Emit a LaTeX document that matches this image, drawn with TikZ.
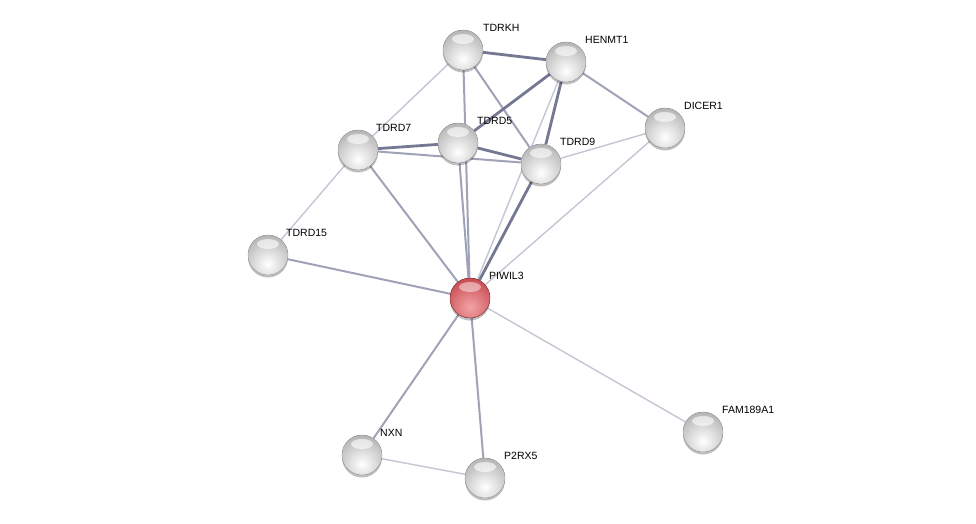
\documentclass[tikz,border=0pt]{standalone}
\usepackage{fontspec}
\setmainfont{Liberation Sans}
\usetikzlibrary{calc,shadows}
\definecolor{ethick}{HTML}{747892}
\definecolor{emed}{HTML}{A0A3B8}
\definecolor{elight}{HTML}{C4C6D4}
\definecolor{ballg}{HTML}{B4B4B4}
\definecolor{ballr}{HTML}{C84B52}
\definecolor{ballrl}{HTML}{F3A3A5}
\pgfdeclarelayer{bg}
\pgfsetlayers{bg,main}
\tikzset{
  ball/.style={circle, minimum size=40pt, inner sep=0pt, draw=gray!70, line width=0.4pt,
    drop shadow={shadow xshift=0pt, shadow yshift=-2.5pt, opacity=.25, fill=black},
    path picture={
      \fill[inner color=white, outer color=ballg] ($(path picture bounding box.center)+(0,9)$) circle (29pt);
      \fill[white, opacity=.6] ($(path picture bounding box.center)+(0,-11)$) ellipse (11pt and 5pt);
    }},
  redball/.style={circle, minimum size=40pt, inner sep=0pt, draw=ballr!70!black, line width=0.4pt,
    drop shadow={shadow xshift=0pt, shadow yshift=-2.5pt, opacity=.25, fill=black},
    path picture={
      \fill[inner color=ballrl, outer color=ballr] ($(path picture bounding box.center)+(0,9)$) circle (29pt);
      \fill[white, opacity=.45] ($(path picture bounding box.center)+(0,-11)$) ellipse (11pt and 5pt);
    }},
  lbl/.style={anchor=west, inner sep=0pt, font=\fontsize{10.5}{12}\selectfont, text=black},
  thick edge/.style={draw=ethick, line width=2.8pt},
  med edge/.style={draw=emed, line width=2pt},
  light edge/.style={draw=elight, line width=1.4pt}
}
\begin{document}
\begin{tikzpicture}[x=1pt,y=-1pt]
\useasboundingbox (0,0) rectangle (976,524);

\node[ball] (tdrkh) at (463,50) {};
\node[ball] (henmt1) at (566,62) {};
\node[ball] (dicer1) at (665,128) {};
\node[ball] (tdrd7) at (358,150) {};
\node[ball] (tdrd5) at (458,143) {};
\node[ball] (tdrd9) at (541,164) {};
\node[ball] (tdrd15) at (268,255) {};
\node[redball] (piwil3) at (470,298) {};
\node[ball] (nxn) at (362,455) {};
\node[ball] (p2rx5) at (485,478) {};
\node[ball] (fam) at (703,432) {};

\node[lbl] (l1) at ($(tdrkh)+(20,-22)$) {TDRKH};
\node[lbl] (l2) at ($(henmt1)+(19,-22)$) {HENMT1};
\node[lbl] (l3) at ($(dicer1)+(19,-22)$) {DICER1};
\node[lbl] (l4) at ($(tdrd7)+(18,-22)$) {TDRD7};
\node[lbl] (l5) at ($(tdrd5)+(19,-22)$) {TDRD5};
\node[lbl] (l6) at ($(tdrd9)+(19,-22)$) {TDRD9};
\node[lbl] (l7) at ($(tdrd15)+(18,-22)$) {TDRD15};
\node[lbl] (l8) at ($(piwil3)+(19,-22)$) {PIWIL3};
\node[lbl] (l9) at ($(nxn)+(18,-22)$) {NXN};
\node[lbl] (l10) at ($(p2rx5)+(19,-22)$) {P2RX5};
\node[lbl] (l11) at ($(fam)+(19,-22)$) {FAM189A1};

\begin{pgfonlayer}{bg}
\fill[white] (0,0) rectangle (976,524);
\draw[light edge] (tdrkh) -- (tdrd7);
\draw[light edge] (tdrd7) -- (tdrd15);
\draw[light edge] (tdrd9) -- (dicer1);
\draw[light edge] (dicer1) -- (piwil3);
\draw[light edge] (henmt1) -- (piwil3);
\draw[light edge] (piwil3) -- (fam);
\draw[light edge] (nxn) -- (p2rx5);
\draw[med edge] (tdrkh) -- (tdrd9);
\draw[med edge] (tdrkh.center) -- (piwil3);
\draw[med edge] (tdrd7) -- (tdrd9);
\draw[med edge] (tdrd5) -- (piwil3);
\draw[med edge] (tdrd7) -- (piwil3);
\draw[med edge] (tdrd15) -- (piwil3);
\draw[med edge] (henmt1) -- (dicer1);
\draw[med edge] (piwil3) -- (nxn);
\draw[med edge] (piwil3) -- (p2rx5);
\draw[thick edge] (tdrkh) -- (henmt1);
\draw[thick edge] (henmt1) -- (tdrd9);
\draw[thick edge] (henmt1) -- (tdrd5);
\draw[thick edge] (tdrd7) -- (tdrd5);
\draw[thick edge] (tdrd5) -- (tdrd9);
\draw[thick edge] (tdrd9) -- (piwil3);
\end{pgfonlayer}
\end{tikzpicture}
\end{document}
